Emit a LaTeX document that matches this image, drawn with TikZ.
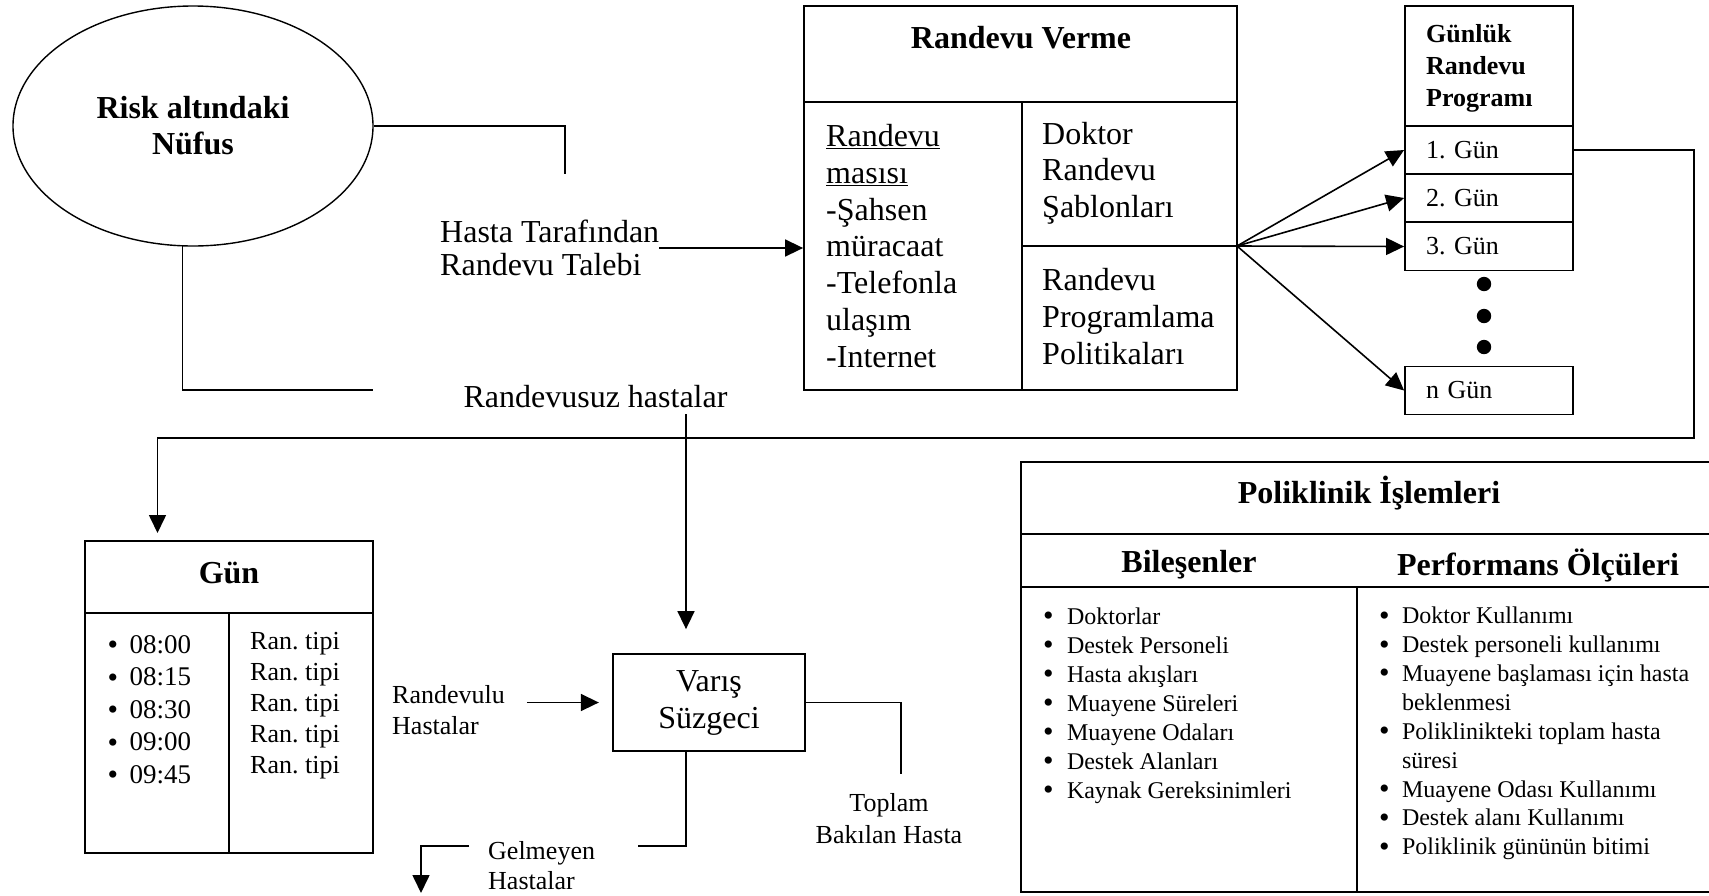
\documentclass[tikz,border=0pt]{standalone}
\usepackage{fontspec}
\setmainfont{Liberation Serif}
\usetikzlibrary{shapes.geometric,arrows.meta}
\newcommand{\madde}[1]{\makebox[#1][l]{\raisebox{-1.5pt}{\fontsize{30}{0}\selectfont\textbullet}}}
\frenchspacing

\begin{document}
\begin{tikzpicture}[x=10pt,y=10pt]
    \tikzstyle{every node}+=[inner sep=0pt]
    \tikzstyle{kutu}=[draw=black, line width=1.8pt, rectangle]
    \tikzstyle{cizgi}=[black, line width=1.6pt]
    \tikzstyle{ok}=[black, line width=1.6pt, -{Triangle[length=18pt,width=17pt]}]
    \tikzstyle{buyuk}=[font=\fontsize{32}{36.7}\selectfont, align=left]
    \tikzstyle{kucuk}=[font=\fontsize{26}{31}\selectfont, align=left]
    \tikzstyle{liste}=[font=\fontsize{24}{29}\selectfont, align=left]
    \tikzstyle{baslik}=[font=\fontsize{32}{36}\selectfont\bfseries, align=center]
    \useasboundingbox (0,0) rectangle (170.9,-89.5);
    % risk altindaki nufus
    \draw (19.3,-12.6) node [ellipse, draw=black, line width=1.4pt, minimum width=360pt, minimum height=240pt, baslik] (nufus) {Risk alt\i ndaki\\N\"ufus};
    \coordinate (talepucu) at (56.5,-17.4);
    \coordinate (randevusuzucu) at (37.3,-39.0);
    \draw [cizgi] (nufus.east) -| (talepucu);
    \draw [cizgi] (nufus.265) |- (randevusuzucu);
    \draw (44.0,-24.8) node [anchor=west, buyuk, font=\fontsize{32}{33}\selectfont] (talep) {Hasta Taraf\i ndan\\Randevu Talebi};
    \draw (59.55,-39.7) node [buyuk] (randevusuz) {Randevusuz hastalar};
    % randevu verme
    \draw (102.05,-19.8) node [kutu, minimum width=433pt, minimum height=384pt] (verme) {};
    \draw [cizgi, line width=1.8pt] (80.4,-10.2) -- (123.7,-10.2);
    \draw [cizgi, line width=1.8pt] (102.2,-10.2) -- (102.2,-39.0);
    \draw [cizgi, line width=1.8pt] (102.2,-24.6) -- (123.7,-24.6);
    \coordinate (fan) at (123.7,-24.6);
    \draw (102.1,-3.8) node [baslik] (vermebaslik) {Randevu Verme};
    \draw (82.6,-24.6) node [anchor=west, buyuk] (masa) {\underline{Randevu}\\\underline{mas\i s\i}\\-\c Sahsen\\m\"uracaat\\-Telefonla\\ula\c s\i m\\-Internet};
    \draw (104.2,-17.3) node [anchor=west, buyuk] (sablon) {Doktor\\Randevu\\\c Sablonlar\i};
    \draw (104.2,-31.65) node [anchor=west, buyuk] (politika) {Randevu\\Programlama\\Politikalar\i};
    \draw [ok] (talep.east) -- (talep.east -| verme.west);
    % gunluk randevu programi
    \draw (148.9,-6.6) node [kutu, minimum width=168pt, minimum height=120pt] (gunluk) {};
    \draw (142.6,-6.8) node [anchor=west, font=\fontsize{26}{32}\selectfont\bfseries, align=left] (gunlukbaslik) {G\"unl\"uk\\Randevu\\Program\i};
    \tikzstyle{gunkutu}=[kutu, minimum width=168pt, minimum height=48pt, text width=126pt, align=left, font=\fontsize{26}{31}\selectfont]
    \draw (148.9,-15.0) node [gunkutu] (gun1) {1. G\"un};
    \draw (148.9,-19.8) node [gunkutu] (gun2) {2. G\"un};
    \draw (148.9,-24.65) node [gunkutu] (gun3) {3. G\"un};
    \draw (148.9,-39.05) node [gunkutu] (gunn) {n G\"un};
    \fill [black] (148.4,-28.4) circle (0.72);
    \fill [black] (148.4,-31.6) circle (0.72);
    \fill [black] (148.4,-34.7) circle (0.72);
    \draw [ok] (fan) -- (gun1.west);
    \draw [ok] (fan) -- (gun2.west);
    \draw [ok] (fan) -- (gun3.west);
    \draw [ok] (fan) -- (gunn.west);
    % gun tablosu
    \coordinate (donus) at (169.4,-43.8);
    \coordinate (gunust) at (15.75,-53.3);
    \draw [ok] (gun1.east) -| (donus) -| (gunust);
    \draw (22.9,-69.7) node [kutu, minimum width=288pt, minimum height=312pt] (gunbox) {};
    \draw [cizgi, line width=1.8pt] (8.5,-61.3) -- (37.3,-61.3);
    \draw [cizgi, line width=1.8pt] (22.9,-61.3) -- (22.9,-85.3);
    \draw (22.9,-57.3) node [baslik] (gunbaslik) {G\"un};
    \draw (10.73,-71.0) node [anchor=west, font=\fontsize{27}{32.5}\selectfont, align=left] (saatler) {\madde{22pt}08:00\\\madde{22pt}08:15\\\madde{22pt}08:30\\\madde{22pt}09:00\\\madde{22pt}09:45};
    \draw (25.0,-70.55) node [anchor=west, kucuk] (tipler) {Ran. tipi\\Ran. tipi\\Ran. tipi\\Ran. tipi\\Ran. tipi};
    % varis suzgeci
    \draw (70.9,-70.25) node [kutu, minimum width=191.5pt, minimum height=97pt, buyuk, align=center, font=\fontsize{32}{37}\selectfont] (varis) {Var\i\c s\\S\"uzgeci};
    \coordinate (varisust) at ([shift={(-23pt,24pt)}]varis.north);
    \coordinate (randevusuzalt) at ([yshift=-6pt]randevusuz.south);
    \draw [ok] (varisust |- randevusuzalt) -- (varisust);
    \draw (39.2,-71.05) node [anchor=west, kucuk] (randevulu) {Randevulu\\Hastalar};
    \draw [ok] ([xshift=-85.5pt]varis.west) -- ([xshift=-13.5pt]varis.west);
    \coordinate (toplamucu) at (90.1,-77.4);
    \draw [cizgi] (varis.east) -| (toplamucu);
    \draw (88.9,-81.9) node [kucuk, align=center, font=\fontsize{26}{32}\selectfont] (toplam) {Toplam\\Bak\i lan Hasta};
    \coordinate (gelmeyensag) at (63.8,-84.6);
    \coordinate (gelmeyensol) at (46.9,-84.6);
    \coordinate (gelmeyenuc) at (42.1,-89.3);
    \draw [cizgi] ([xshift=-23pt]varis.south) |- (gelmeyensag);
    \draw (48.8,-86.6) node [anchor=west, kucuk, font=\fontsize{26}{30}\selectfont] (gelmeyen) {Gelmeyen\\Hastalar};
    \draw [ok] (gelmeyensol) -| (gelmeyenuc);
    % poliklinik islemleri
    \draw (136.65,-67.7) node [kutu, minimum width=691pt, minimum height=430pt] (poli) {};
    \draw [cizgi, line width=1.8pt] (102.1,-53.4) -- (171.2,-53.4);
    \draw [cizgi, line width=1.8pt] (102.1,-58.7) -- (171.2,-58.7);
    \draw [cizgi, line width=1.8pt] (135.7,-58.7) -- (135.7,-89.2);
    \draw (136.9,-49.3) node [baslik] (polibaslik) {Poliklinik \.I\c slemleri};
    \draw (118.9,-56.5) node [baslik] (bilesenbaslik) {Bile\c senler};
    \draw (153.8,-56.5) node [baslik] (olcubaslik) {Performans \"Ol\c c\"uleri};
    \draw (104.28,-70.55) node [anchor=west, liste] (bilesenler) {\madde{24pt}Doktorlar\\\madde{24pt}Destek Personeli\\\madde{24pt}Hasta ak\i\c slar\i\\\madde{24pt}Muayene S\"ureleri\\\madde{24pt}Muayene Odalar\i\\\madde{24pt}Destek Alanlar\i\\\madde{24pt}Kaynak Gereksinimleri};
    \draw (137.88,-73.35) node [anchor=west, liste, font=\fontsize{24}{28.9}\selectfont] (olculer) {\madde{23pt}Doktor Kullan\i m\i\\\madde{23pt}Destek personeli kullan\i m\i\\\madde{23pt}Muayene ba\c slamas\i{} i\c cin hasta\\\makebox[23pt][l]{}beklenmesi\\\madde{23pt}Poliklinikteki toplam hasta\\\makebox[23pt][l]{}s\"uresi\\\madde{23pt}Muayene Odas\i{} Kullan\i m\i\\\madde{23pt}Destek alan\i{} Kullan\i m\i\\\madde{23pt}Poliklinik g\"un\"un\"un bitimi};
\end{tikzpicture}
\end{document}
